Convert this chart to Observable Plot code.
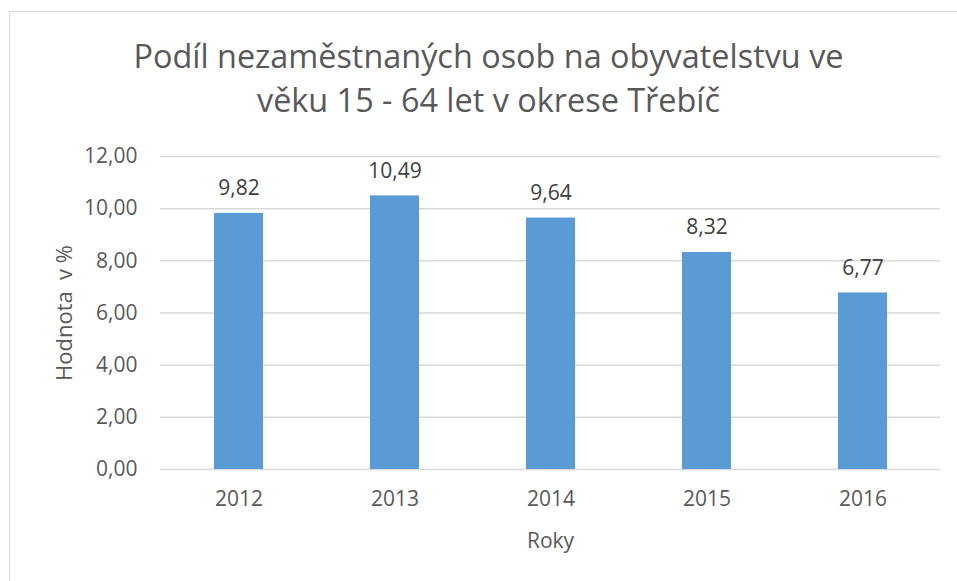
<!DOCTYPE html>
<html>
<head>
<meta charset="utf-8">
<script src="https://cdn.jsdelivr.net/npm/d3@7"></script>
<script src="https://cdn.jsdelivr.net/npm/@observablehq/plot@0.6"></script>
<style>
  body { margin: 0; background: #fff; }
  #wrap { position: relative; width: 957px; height: 581px; overflow: hidden; font-family: "Open Sans", sans-serif; }
  #border { position: absolute; left: 9px; top: 11px; width: 1000px; height: 1000px; border: 1.5px solid #d9d9d9; box-sizing: border-box; }
  #title { position: absolute; left: 10px; top: 33px; width: 957px; text-align: center; font-size: 32.4px; line-height: 44px; color: #595959; }
  #chart { position: absolute; left: 0; top: 0; }
</style>
</head>
<body>
<div id="wrap">
  <div id="border"></div>
  <div id="title">Podíl nezaměstnaných osob na obyvatelstvu ve<br>věku 15 - 64 let v okrese Třebíč</div>
  <div id="chart"></div>
</div>
<script>
const years = ["2012", "2013", "2014", "2015", "2016"];
const values = [9.82, 10.49, 9.64, 8.32, 6.77];
const yTicks = [0, 2, 4, 6, 8, 10, 12];
const xTitle = "Roky";
const yTitle = "Hodnota  v %";

const data = years.map((year, i) => ({year, value: values[i]}));
const fmt = d => d.toFixed(2).replace(".", ",");

const chart = Plot.plot({
  width: 957,
  height: 581,
  marginLeft: 160,
  marginRight: 17,
  marginTop: 156,
  marginBottom: 112,
  style: {fontFamily: "'Open Sans', sans-serif", fontSize: "21px", color: "#595959", background: "transparent", overflow: "visible"},
  x: {domain: years, paddingInner: 0.686, paddingOuter: 0.343},
  y: {domain: [0, 12]},
  marks: [
    Plot.gridY(yTicks, {stroke: "#d9d9d9", strokeOpacity: 1, strokeWidth: 1.5}),
    Plot.barY(data, {x: "year", y: "value", fill: "#5b9bd5"}),
    Plot.text(data, {x: "year", y: "value", text: d => fmt(d.value), dy: -25, fontSize: 21, fill: "#404040"}),
    Plot.axisY(yTicks, {tickFormat: fmt, tickSize: 0, tickPadding: 23, fontSize: 21, label: null}),
    Plot.axisY({label: yTitle, labelAnchor: "center", labelOffset: 104, labelArrow: "none", fontSize: 22, tickSize: 0, tickFormat: () => "", ticks: []}),
    Plot.axisX({tickSize: 0, tickPadding: 22, fontSize: 21, label: xTitle, labelAnchor: "center", labelOffset: 78, labelArrow: "none"})
  ]
});
document.getElementById("chart").appendChild(chart);
</script>
</body>
</html>
